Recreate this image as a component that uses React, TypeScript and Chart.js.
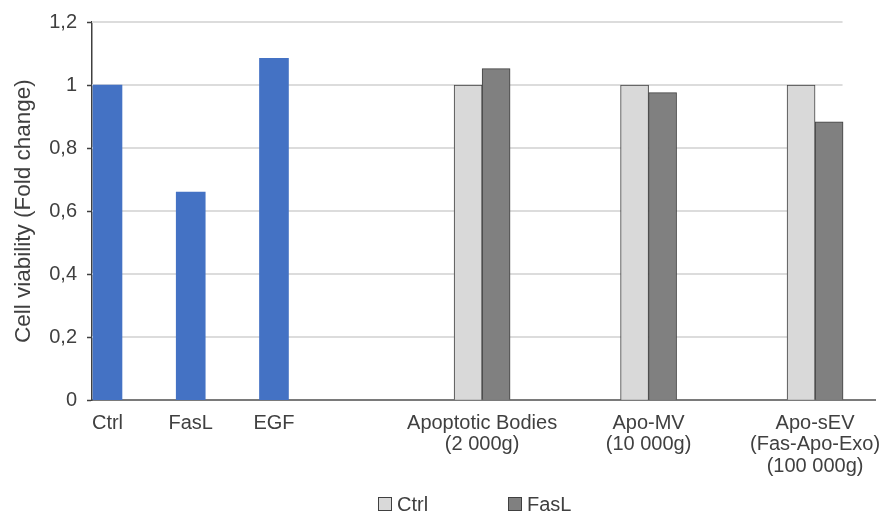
import React, { useEffect, useRef } from "react";
import { Chart, registerables } from "chart.js";

Chart.register(...registerables);

// ---- data ----
const singleCategories: string[] = ["Ctrl", "FasL", "EGF"];
const singleValues: number[] = [1, 0.66, 1.085];

const groupCategories: string[][] = [
  ["Apoptotic Bodies", "(2 000g)"],
  ["Apo-MV", "(10 000g)"],
  ["Apo-sEV", "(Fas-Apo-Exo)", "(100 000g)"],
];
const ctrlValues: number[] = [1, 1, 1];
const faslValues: number[] = [1.052, 0.976, 0.883];
const seriesNames: string[] = ["Ctrl", "FasL"];

// category slots on the x axis (in category units)
const categorySlots: number[] = [0, 1, 2, 4.5, 6.5, 8.5];

const yTickValues: number[] = [0, 0.2, 0.4, 0.6, 0.8, 1, 1.2];
const yTickLabels: string[] = ["0", "0,2", "0,4", "0,6", "0,8", "1", "1,2"];
const yTitle = "Cell viability (Fold change)";

// ---- style ----
const FONT = '"Liberation Sans", Arial, sans-serif';
const TEXT = "#404040";
const BLUE = "#4472C4";
const LIGHT = "#D9D9D9";
const DARK = "#808080";
const EDGE = "#404040";
const GRID_END = 8.83;

const allLabels: (string | string[])[] = [...singleCategories, ...groupCategories];

const gridPlugin = {
  id: "partialGrid",
  beforeDatasetsDraw(chart: any) {
    const { ctx, chartArea, scales } = chart;
    const xEnd = scales.x.getPixelForValue(GRID_END);
    ctx.save();
    ctx.strokeStyle = "#DCDCDC";
    ctx.lineWidth = 2;
    yTickValues.forEach((v) => {
      if (v === 0) return;
      const py = Math.round(scales.y.getPixelForValue(v));
      ctx.beginPath();
      ctx.moveTo(chartArea.left, py);
      ctx.lineTo(xEnd, py);
      ctx.stroke();
    });
    ctx.restore();
  },
};

const legendPlugin = {
  id: "bottomLegend",
  afterDraw(chart: any) {
    const { ctx } = chart;
    ctx.save();
    ctx.font = `20px ${FONT}`;
    ctx.textBaseline = "middle";
    ctx.textAlign = "left";
    const cy = 504;
    let x = 378;
    seriesNames.forEach((name, i) => {
      const ds = chart.data.datasets[i + 1];
      ctx.fillStyle = ds.backgroundColor;
      ctx.fillRect(x + 0.5, cy - 7 + 0.5, 13, 13);
      ctx.strokeStyle = ds.borderColor;
      ctx.lineWidth = 1;
      ctx.strokeRect(x + 0.5, cy - 7 + 0.5, 13, 13);
      ctx.fillStyle = TEXT;
      ctx.fillText(name, x + 19, cy + 1);
      x += 130;
    });
    ctx.restore();
  },
};

export default function App() {
  const canvasRef = useRef<HTMLCanvasElement | null>(null);

  useEffect(() => {
    if (!canvasRef.current) return;
    const nSingle = singleValues.length;
    const blueData = categorySlots.map((s, i) => ({ x: s, y: i < nSingle ? singleValues[i] : null }));
    const ctrlData = categorySlots.map((s, i) => ({ x: s, y: i >= nSingle ? ctrlValues[i - nSingle] : null }));
    const faslData = categorySlots.map((s, i) => ({ x: s, y: i >= nSingle ? faslValues[i - nSingle] : null }));

    const chart = new Chart(canvasRef.current, {
      type: "bar",
      data: {
        datasets: [
          {
            label: "Treatment",
            data: blueData as any,
            backgroundColor: BLUE,
            borderColor: "#3B64AE",
            borderWidth: 0,
            barThickness: 29,
            skipNull: true,
          } as any,
          {
            label: seriesNames[0],
            data: ctrlData as any,
            backgroundColor: LIGHT,
            borderColor: EDGE,
            borderWidth: 1,
            barThickness: 28,
            skipNull: true,
          } as any,
          {
            label: seriesNames[1],
            data: faslData as any,
            backgroundColor: DARK,
            borderColor: EDGE,
            borderWidth: 1,
            barThickness: 28,
            skipNull: true,
          } as any,
        ],
      },
      options: {
        animation: false,
        responsive: true,
        maintainAspectRatio: false,
        layout: { padding: { left: 10, right: 6, top: 21, bottom: 26 } },
        plugins: {
          legend: { display: false },
          tooltip: { enabled: false },
        },
        scales: {
          x: {
            type: "linear",
            min: -0.186,
            max: 9.22,
            offset: false,
            grid: { display: true, drawOnChartArea: false, drawTicks: false, offset: false },
            border: { display: true, color: "#7A7A7A", width: 2 },
            afterBuildTicks: (scale: any) => {
              scale.ticks = categorySlots.map((v) => ({ value: v }));
            },
            afterFit: (scale: any) => {
              scale.paddingLeft = 0;
              scale.paddingRight = 0;
            },
            ticks: {
              autoSkip: false,
              maxRotation: 0,
              minRotation: 0,
              padding: 12,
              color: TEXT,
              font: { family: FONT, size: 20, lineHeight: 1.08 },
              callback: (_v: any, i: number) => allLabels[i],
            },
          } as any,
          y: {
            min: 0,
            max: 1.2,
            afterBuildTicks: (scale: any) => {
              scale.ticks = yTickValues.map((v) => ({ value: v }));
            },
            afterFit: (scale: any) => {
              scale.width = 82;
            },
            grid: {
              display: true,
              drawOnChartArea: false,
              drawTicks: true,
              tickLength: 5,
              tickColor: EDGE,
              tickWidth: 1.5,
            },
            border: { display: true, color: EDGE, width: 1.5 },
            ticks: {
              padding: 10,
              color: TEXT,
              font: { family: FONT, size: 20 },
              callback: (_v: any, i: number) => yTickLabels[i],
            },
            title: {
              display: true,
              text: yTitle,
              color: TEXT,
              font: { family: FONT, size: 22.5 },
              padding: { top: 0, bottom: 0 },
            },
          } as any,
        },
      },
      plugins: [gridPlugin, legendPlugin],
    });
    return () => chart.destroy();
  }, []);

  return (
    <div style={{ position: "absolute", left: 0, top: 0, width: 881, height: 515, background: "#fff" }}>
      <canvas ref={canvasRef} />
    </div>
  );
}
